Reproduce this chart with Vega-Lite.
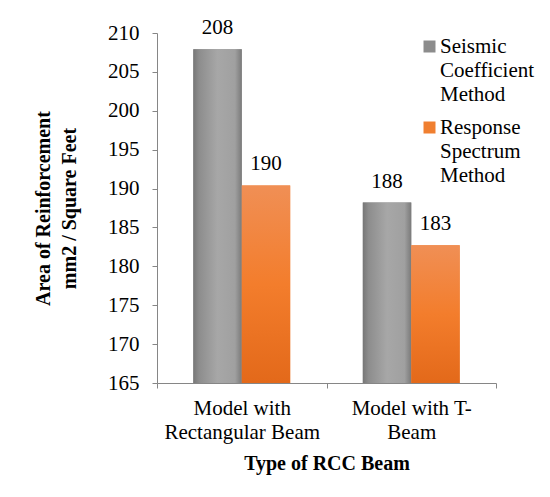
{
  "$schema": "https://vega.github.io/schema/vega-lite/v6.json",
  "width": 339,
  "height": 350,
  "autosize": {"type": "none"},
  "padding": {"left": 157, "top": 33, "right": 54, "bottom": 114},
  "background": "white",
  "config": {
    "font": "Liberation Serif",
    "view": {"stroke": null},
    "axis": {"labelFont": "Liberation Serif", "titleFont": "Liberation Serif", "labelColor": "black", "titleColor": "black", "labelFontSize": 21, "titleFontSize": 20, "titleFontWeight": "bold", "domainColor": "#868686", "tickColor": "#868686", "grid": false}
  },
  "data": {
    "values": [
      {"beam": "Model with Rectangular Beam", "series": "Seismic Coefficient Method", "value": 207.9},
      {"beam": "Model with Rectangular Beam", "series": "Response Spectrum Method", "value": 190.4},
      {"beam": "Model with T-Beam", "series": "Seismic Coefficient Method", "value": 188.2},
      {"beam": "Model with T-Beam", "series": "Response Spectrum Method", "value": 182.7}
    ]
  },
  "encoding": {
    "x": {
      "field": "beam", "type": "nominal", "sort": null,
      "scale": {"paddingInner": 0, "paddingOuter": 0},
      "axis": {
        "title": "Type of  RCC Beam", "labelAngle": 0, "ticks": true, "tickBand": "extent", "tickSize": 5, "labelPadding": 9,
        "labelLineHeight": 24, "titlePadding": 11,
        "labelExpr": "datum.label == 'Model with T-Beam' ? ['Model with T-', 'Beam'] : datum.label == 'Model with Rectangular Beam' ? ['Model with', 'Rectangular Beam'] : ''"
      }
    },
    "xOffset": {"field": "series", "type": "nominal", "sort": ["Seismic Coefficient Method", "Response Spectrum Method"], "scale": {"paddingInner": 0, "paddingOuter": 0.75}},
    "y": {
      "field": "value", "type": "quantitative",
      "scale": {"domain": [165, 210], "nice": false, "zero": false, "clamp": true},
      "axis": {
        "title": ["Area of Reinforcement", "mm2 / Square Feet"], "values": [165, 170, 175, 180, 185, 190, 195, 200, 205, 210],
        "tickSize": 5, "labelPadding": 13, "titlePadding": 28, "titleLineHeight": 26
      }
    }
  },
  "layer": [
    {
      "mark": {"type": "bar"},
      "encoding": {
        "fill": {
          "field": "series", "type": "nominal", "sort": ["Seismic Coefficient Method", "Response Spectrum Method"],
          "scale": {"range": ["#8c8c8c", "#F07F30"]},
          "legend": {
            "title": null, "orient": "none", "legendX": 262, "legendY": 3,
            "symbolType": "square", "symbolSize": 144, "symbolStrokeWidth": 0,
            "labelFont": "Liberation Serif", "labelFontSize": 21, "labelColor": "black",
            "labelOffset": 0, "rowPadding": 11, "labelLimit": 200,
            "labelExpr": "datum.label == 'Seismic Coefficient Method' ? ['Seismic', 'Coefficient', 'Method'] : ['Response', 'Spectrum', 'Method']",
            "encode": {"labels": {"update": {"lineHeight": {"value": 24}}}}
          }
        }
      }
    },
    {
      "mark": {"type": "bar"},
      "encoding": {
        "fill": {
          "condition": {
            "test": "datum.series == 'Seismic Coefficient Method'",
            "value": {"gradient": "linear", "x1": 0, "y1": 0, "x2": 1, "y2": 0, "stops": [
              {"offset": 0, "color": "#777777"},
              {"offset": 0.12, "color": "#8d8d8d"},
              {"offset": 0.5, "color": "#a7a7a7"},
              {"offset": 0.86, "color": "#a0a0a0"},
              {"offset": 1, "color": "#7a7a7a"}
            ]}
          },
          "value": {"gradient": "linear", "x1": 0, "y1": 0, "x2": 0, "y2": 1, "stops": [
            {"offset": 0, "color": "#F08F55"},
            {"offset": 0.5, "color": "#F37D2C"},
            {"offset": 1, "color": "#E3691A"}
          ]}
        }
      }
    },
    {
      "mark": {"type": "text", "baseline": "alphabetic", "dy": -15, "fontSize": 21, "font": "Liberation Serif", "color": "black"},
      "encoding": {
        "text": {"field": "value", "type": "quantitative", "format": ".0f"}
      }
    }
  ]
}
